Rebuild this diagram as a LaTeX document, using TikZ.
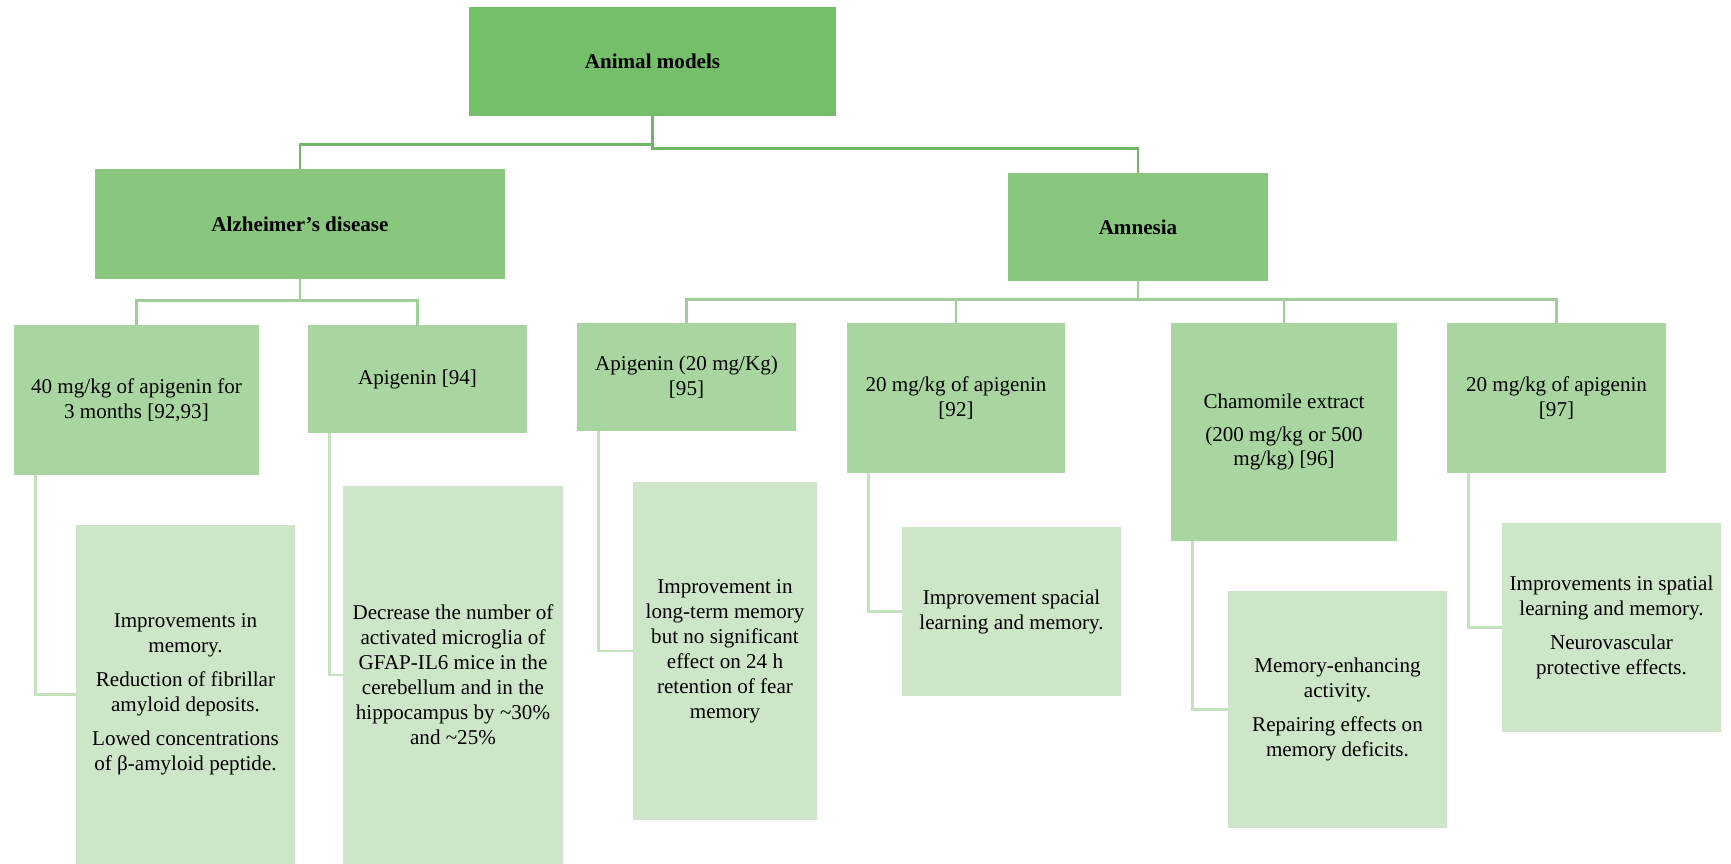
\documentclass[tikz,border=0pt]{standalone}
\usepackage{fontspec}
\setmainfont{Liberation Serif}
\usetikzlibrary{positioning}

\definecolor{greenA}{HTML}{75BE6A}
\definecolor{greenB}{HTML}{8AC77E}
\definecolor{greenC}{HTML}{A9D6A0}
\definecolor{greenD}{HTML}{CDE6C7}
\definecolor{lineA}{HTML}{70B866}
\definecolor{lineB}{HTML}{9FCF96}
\definecolor{lineC}{HTML}{C5E2BE}

\begin{document}
\begin{tikzpicture}[x=0.02cm, y=-0.02cm,
 every node/.style={rectangle, align=center, inner sep=0pt,
   font=\fontsize{12}{14.2}\selectfont},
 headbox/.style={fill=greenB, minimum height=2.2cm,
   font=\fontsize{12}{14.2}\selectfont\bfseries},
 dosebox/.style={fill=greenC, minimum width=4.38cm},
 effectbox/.style={fill=greenD, minimum width=4.38cm},
 topline/.style={draw=lineA, line width=1.6pt},
 midline/.style={draw=lineB, line width=1.6pt},
 sideline/.style={draw=lineC, line width=1.6pt}]

 \useasboundingbox (0,0) rectangle (1731,864);

 % top level
 \node[headbox, fill=greenA, minimum width=7.34cm, minimum height=2.18cm] (animal) at (652.5,61.5) {Animal models};
 \node[headbox, minimum width=8.2cm] (alz) at (300,224) {Alzheimer’s disease};
 \node[headbox, minimum width=5.2cm, minimum height=2.16cm] (amn) at (1138,227) {Amnesia};

 % doses
 \node[dosebox, minimum width=4.9cm, minimum height=3cm] (d1) at (136.5,400) {40 mg/kg of apigenin for\\3 months [92,93]};
 \node[dosebox, minimum height=2.16cm] (d2) at (417.5,379) {Apigenin [94]};
 \node[dosebox, minimum height=2.16cm] (d3) at (686.5,377) {Apigenin (20 mg/Kg)\\{[95]}};
 \node[dosebox, minimum width=4.36cm, minimum height=3cm] (d4) at (956,398) {20 mg/kg of apigenin\\{[92]}};
 \node[dosebox, minimum width=4.52cm, minimum height=4.36cm] (d5) at (1284,432) {Chamomile extract\\[0.16cm](200 mg/kg or 500\\mg/kg) [96]};
 \node[dosebox, minimum height=3cm] (d6) at (1556.5,398) {20 mg/kg of apigenin\\{[97]}};

 % effects
 \node[effectbox, minimum height=6.78cm] (e1) at (185.5,694.5) {Improvements in\\memory.\\[0.18cm]Reduction of fibrillar\\amyloid deposits.\\[0.18cm]Lowed concentrations\\of β-amyloid peptide.};
 \node[effectbox, minimum width=4.4cm, minimum height=7.56cm] (e2) at (453,675) {Decrease the number of\\activated microglia of\\GFAP-IL6 mice in the\\cerebellum and in the\\hippocampus by \textasciitilde30\%\\and \textasciitilde25\%};
 \node[effectbox, minimum width=3.68cm, minimum height=6.76cm] (e3) at (725,651) {Improvement in\\long-term memory\\but no significant\\effect on 24 h\\retention of fear\\memory};
 \node[effectbox, minimum height=3.38cm] (e4) at (1011.5,611.5) {Improvement spacial\\learning and memory.};
 \node[effectbox, minimum height=4.74cm] (e5) at (1337.5,709.5) {Memory-enhancing\\activity.\\[0.18cm]Repairing effects on\\memory deficits.};
 \node[effectbox, minimum height=4.18cm] (e6) at (1611.5,627.5) {Improvements in spatial\\learning and memory.\\[0.18cm]Neurovascular\\protective effects.};

 % connectors
 \draw[topline] (animal.south) -- ++(0,28) -| (alz.north);
 \draw[topline] (animal.south) -- ++(0,32) -| (amn.north);
 \foreach \d in {d1,d2}
   \draw[midline] (alz.south) -- ++(0,21) -| (\d.north);
 \foreach \d in {d3,d4,d5,d6}
   \draw[midline] (amn.south) -- ++(0,18) -| (\d.north);
 \foreach \d/\e in {d1/e1,d2/e2,d3/e3,d4/e4,d5/e5,d6/e6}
   \draw[sideline] (\d.south west) ++(22,0) |- (\e.west);

\end{tikzpicture}
\end{document}
